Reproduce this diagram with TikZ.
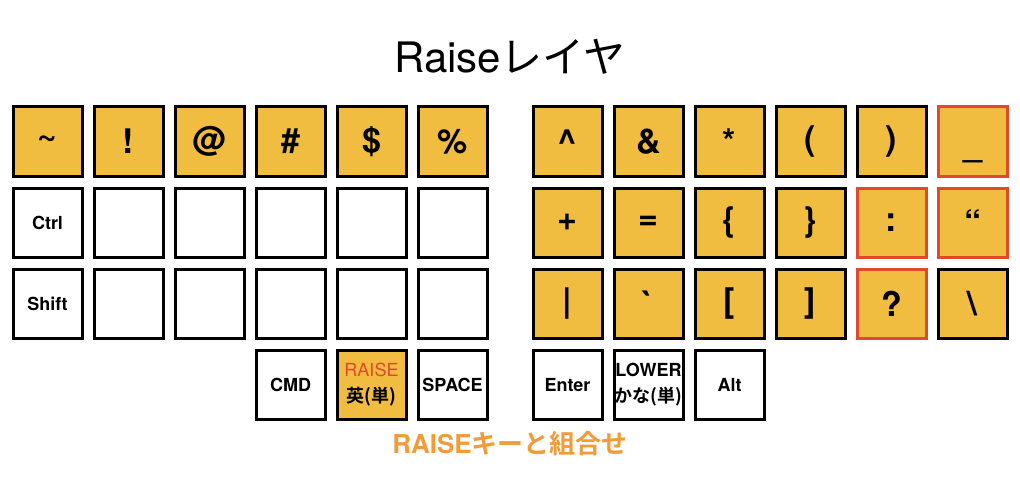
\documentclass[tikz,border=0pt]{standalone}
\usepackage{fontspec}
\setmainfont{TeX Gyre Heros}
\newfontfamily\jp{Noto Sans CJK JP}[BoldFont={Noto Sans CJK JP Bold}]
\definecolor{keyfill}{HTML}{F0BD40}
\definecolor{keyred}{HTML}{E04A2C}
\definecolor{capor}{HTML}{F29B38}
\begin{document}
\begin{tikzpicture}[x=1pt,y=-1pt,
  key/.style={draw=black,line width=3pt,minimum width=69pt,minimum height=69pt,inner sep=0pt,fill=white,
    font=\fontsize{18}{26}\selectfont\bfseries,align=center},
  sym/.style={key,fill=keyfill,font=\fontsize{34}{36}\selectfont\bfseries},
  redkey/.style={sym,draw=keyred},
  combo/.style={key,fill=keyfill}]
\useasboundingbox[fill=white] (0,0) rectangle (1020,500);

\node[font=\fontsize{42}{46}\selectfont] (title) at (510,57) {Raise{\jp レイヤ}};

% left half, row 1
\node[sym] (l11) at (47.5,141.5) {\textasciitilde};
\node[sym] (l12) at (128.5,141.5) {!};
\node[sym] (l13) at (209.5,141.5) {@};
\node[sym] (l14) at (290.5,141.5) {\#};
\node[sym] (l15) at (371.5,141.5) {\$};
\node[sym] (l16) at (452.5,141.5) {\%};
% left half, row 2
\node[key] (l21) at (47.5,222.5) {Ctrl};
\node[key] (l22) at (128.5,222.5) {};
\node[key] (l23) at (209.5,222.5) {};
\node[key] (l24) at (290.5,222.5) {};
\node[key] (l25) at (371.5,222.5) {};
\node[key] (l26) at (452.5,222.5) {};
% left half, row 3
\node[key] (l31) at (47.5,303.5) {Shift};
\node[key] (l32) at (128.5,303.5) {};
\node[key] (l33) at (209.5,303.5) {};
\node[key] (l34) at (290.5,303.5) {};
\node[key] (l35) at (371.5,303.5) {};
\node[key] (l36) at (452.5,303.5) {};
% left thumbs
\node[key] (l44) at (290.5,385) {CMD};
\node[combo] (l45) at (371.5,385) {{\mdseries\color{keyred}RAISE}\\{\jp\bfseries 英(単)}};
\node[key] (l46) at (452.5,385) {SPACE};

% right half, row 1
\node[sym] (r11) at (567.5,141.5) {\textasciicircum};
\node[sym] (r12) at (648.5,141.5) {\&};
\node[sym] (r13) at (729.5,141.5) {*};
\node[sym] (r14) at (810.5,141.5) {(};
\node[sym] (r15) at (891.5,141.5) {)};
\node[redkey] (r16) at (972.5,141.5) {\raisebox{0pt}[30pt][0pt]{\_}};
% right half, row 2
\node[sym] (r21) at (567.5,222.5) {+};
\node[sym] (r22) at (648.5,222.5) {=};
\node[sym] (r23) at (729.5,222.5) {\{};
\node[sym] (r24) at (810.5,222.5) {\}};
\node[redkey] (r25) at (891.5,222.5) {:};
\node[redkey] (r26) at (972.5,222.5) {“};
% right half, row 3
\node[sym] (r31) at (567.5,303.5) {|};
\node[sym] (r32) at (648.5,303.5) {\textasciigrave};
\node[sym] (r33) at (729.5,303.5) {[};
\node[sym] (r34) at (810.5,303.5) {]};
\node[redkey] (r35) at (891.5,303.5) {?};
\node[sym] (r36) at (972.5,303.5) {\textbackslash};
% right thumbs
\node[key] (r41) at (567.5,385) {Enter};
\node[key] (r42) at (648.5,385) {LOWER\\{\jp\bfseries かな(単)}};
\node[key] (r43) at (729.5,385) {Alt};

\node[font=\fontsize{26}{28}\selectfont\bfseries,text=capor] (caption) at (510,444) {RAISE{\jp\bfseries キーと組合せ}};
\end{tikzpicture}
\end{document}
